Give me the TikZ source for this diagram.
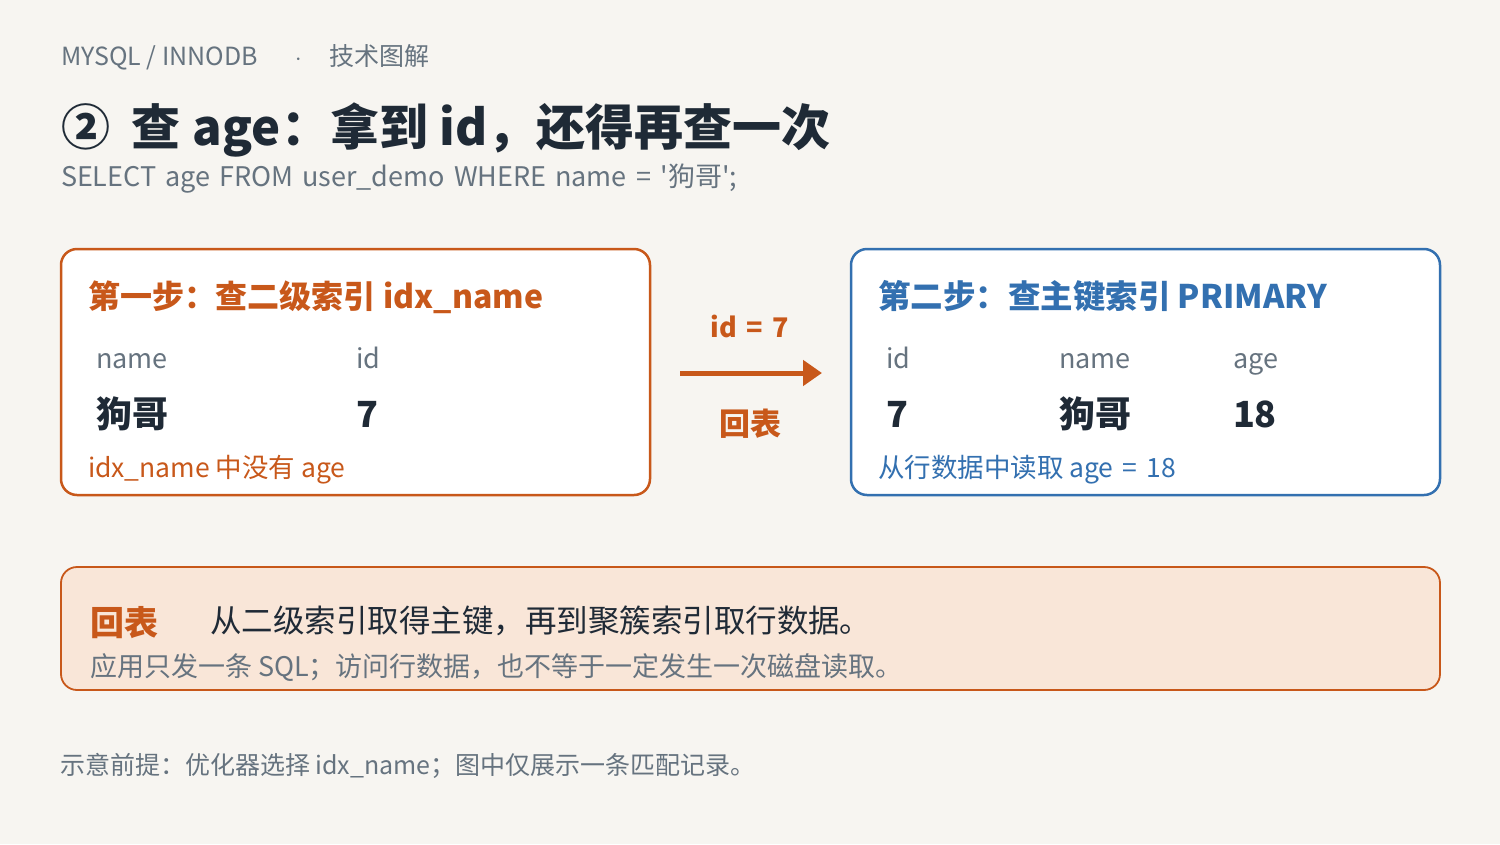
\documentclass[tikz,border=0pt]{standalone}
\usepackage{fontspec}
\setmainfont{Noto Sans CJK SC}[Ligatures=TeXOff]
\usetikzlibrary{arrows.meta}
\definecolor{bgc}{HTML}{F7F5F1}
\definecolor{greyc}{HTML}{66737F}
\definecolor{darkc}{HTML}{1F2A36}
\definecolor{orangec}{HTML}{C8581A}
\definecolor{bluec}{HTML}{3370B0}
\definecolor{peachc}{HTML}{F9E6D8}
\newcommand{\eqs}{\hspace{0.35em}=\hspace{0.35em}}
\tikzset{
  txt/.style={anchor=base west, inner sep=0pt, outer sep=0pt},
  fs/.style={font=\fontsize{#1}{#1}\selectfont},
  fsb/.style={font=\fontsize{#1}{#1}\selectfont\bfseries},
  card/.style={draw=#1, line width=2.5pt, rounded corners=16pt, fill=white},
}
\begin{document}
\begin{tikzpicture}[x=1pt,y=-1pt]
\fill[bgc] (0,0) rectangle (1500,844);
\useasboundingbox (0,0) rectangle (1500,844);

\node[txt, fs=25, text=greyc] (hdr) at (61,65) {MYSQL / INNODB\hspace{37pt}$\cdot$\hspace{28pt}技术图解};
\node[txt, fsb=49, text=darkc] (title) at (61,145) {②\hspace{22pt}查\hspace{12pt}age：拿到\hspace{12pt}id，还得再查一次};
\node[txt, fs=27, text=greyc] (sql) at (61,186) {\spaceskip=9pt\relax SELECT age FROM user\_demo WHERE name\eqs'狗哥';};

% left card
\draw[card=orangec] (61,249) rectangle (650,495);
\node[txt, fsb=32, text=orangec] (lt) at (88,308) {第一步：查二级索引 idx\_name};
\node[txt, fs=27, text=greyc] (lh1) at (96,368) {name};
\node[txt, fs=27, text=greyc] (lh2) at (356,368) {id};
\node[txt, fsb=36, text=darkc] (lv1) at (96,427) {狗哥};
\node[txt, fsb=36, text=darkc] (lv2) at (356,427) {7};
\node[txt, fs=26.5, text=orangec] (ln) at (88,477) {idx\_name 中没有 age};

% arrow
\coordinate (as) at (680,373);
\coordinate (ae) at (822,373);
\draw[orangec, line width=5pt, -{Triangle[length=19pt,width=25pt]}] (as) -- (ae);
\node[txt, fsb=27, text=orangec, anchor=base] (al) at (750,337) {id\eqs 7};
\node[fsb=31, text=orangec, inner sep=0pt] (ab) at (750,424) {回表};

% right card
\draw[card=bluec] (851,249) rectangle (1440,495);
\node[txt, fsb=32.5, text=bluec] (rt) at (878,308) {第二步：查主键索引 PRIMARY};
\node[txt, fs=27, text=greyc] (rh1) at (886,368) {id};
\node[txt, fs=27, text=greyc] (rh2) at (1059,368) {name};
\node[txt, fs=27, text=greyc] (rh3) at (1233,368) {age};
\node[txt, fsb=36, text=darkc] (rv1) at (886,427) {7};
\node[txt, fsb=36, text=darkc] (rv2) at (1059,427) {狗哥};
\node[txt, fsb=36, text=darkc] (rv3) at (1233,427) {18};
\node[txt, fs=26.5, text=bluec] (rn) at (878,477) {从行数据中读取 age\eqs 18};

% bottom box
\draw[draw=orangec, line width=1.8pt, fill=peachc, rounded corners=16pt] (61,567) rectangle (1440,690);
\node[txt, fsb=34, text=orangec] (bt) at (90,635) {回表};
\node[txt, fs=31.5, text=darkc] (bm) at (210,632) {从二级索引取得主键，再到聚簇索引取行数据。};
\node[txt, fs=27, text=greyc] (bs) at (90,676) {应用只发一条 SQL；访问行数据，也不等于一定发生一次磁盘读取。};

\node[txt, fs=25, text=greyc] (ft) at (60,774) {示意前提：优化器选择 idx\_name；图中仅展示一条匹配记录。};
\end{tikzpicture}
\end{document}
